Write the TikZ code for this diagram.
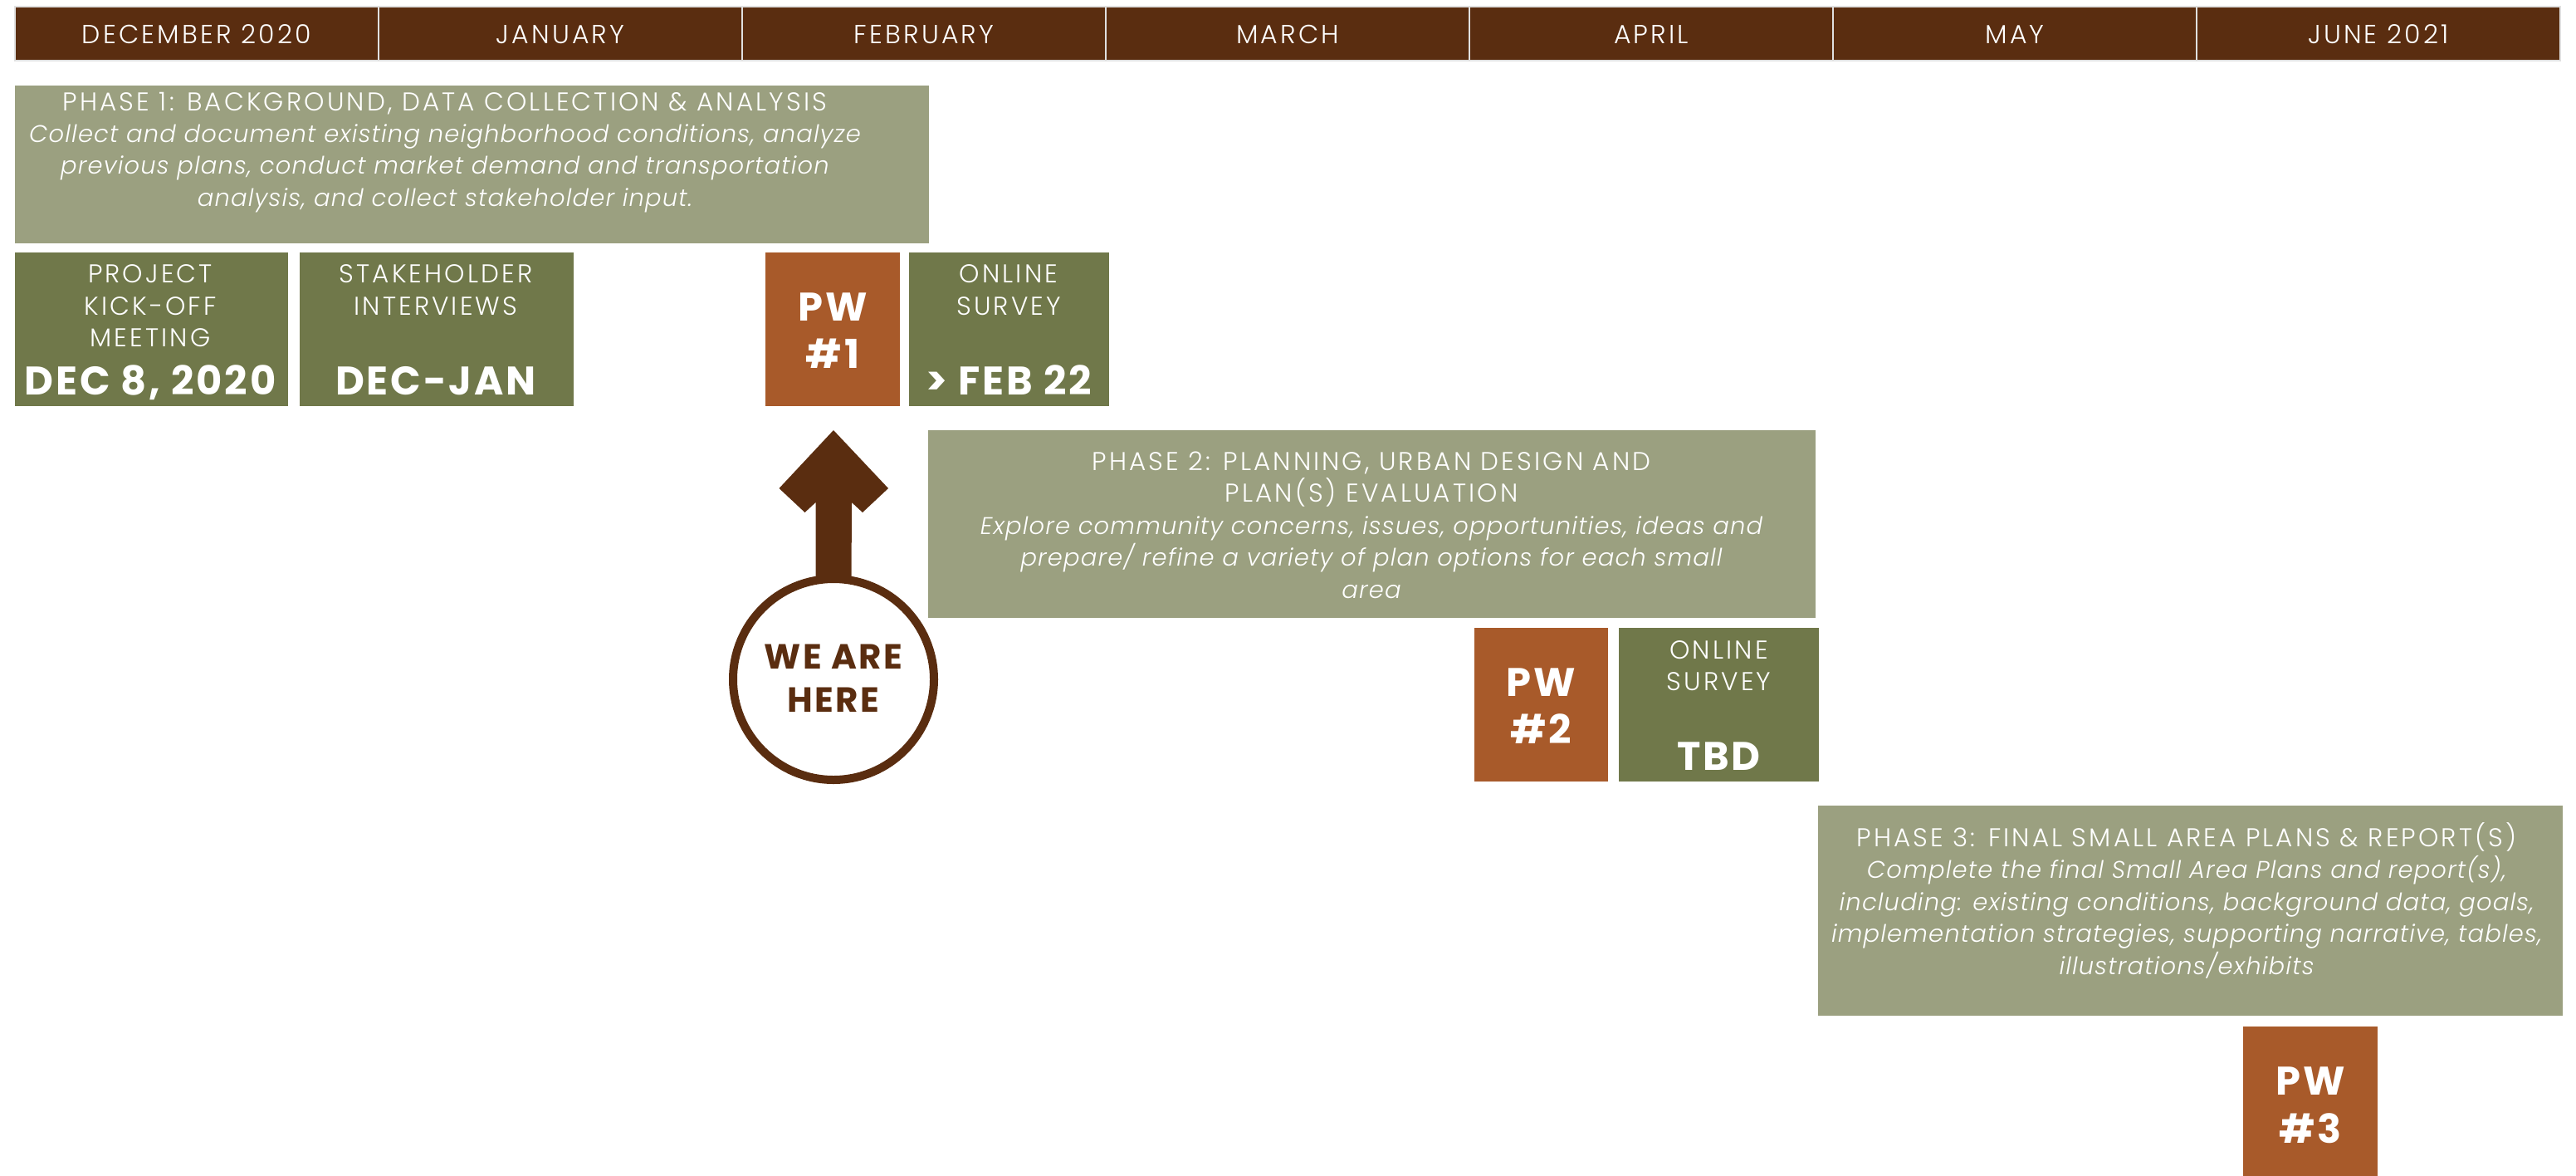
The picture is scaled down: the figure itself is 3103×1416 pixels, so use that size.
\documentclass[tikz,border=0pt]{standalone}
\usepackage{fontspec}
\newfontfamily\lightfont{Poppins Light}[LetterSpace=10]
\newfontfamily\italfont{Poppins Light Italic}[LetterSpace=4]
\newfontfamily\boldfont{Poppins Bold}[LetterSpace=6]
\definecolor{hbrown}{RGB}{90,45,16}
\definecolor{phasecol}{RGB}{155,160,128}
\definecolor{olivecol}{RGB}{112,120,74}
\definecolor{pwcol}{RGB}{168,90,42}
\begin{document}
\begin{tikzpicture}[x=1pt,y=-1pt,
  cell/.style={fill=hbrown,draw=black!12,line width=2pt,minimum width=438pt,minimum height=65pt,inner sep=0pt,outer sep=0pt},
  blk/.style={inner sep=0pt,outer sep=0pt},
  phasebox/.style={blk,fill=phasecol},
  olivebox/.style={blk,fill=olivecol},
  pwbox/.style={blk,fill=pwcol},
  txt/.style={anchor=base,inner sep=0pt,outer sep=0pt,text=white},
  hdr/.style={txt,font=\lightfont\fontsize{31.5}{36}\selectfont},
  lt/.style={txt,font=\lightfont\fontsize{31}{36}\selectfont},
  it/.style={txt,font=\italfont\fontsize{29}{36}\selectfont},
  bd/.style={txt,font=\boldfont\fontsize{48}{50}\selectfont},
  here/.style={txt,text=hbrown,font=\boldfont\fontsize{42}{44}\selectfont}
]
\useasboundingbox (0,0) rectangle (3103,1416);
% header
\foreach \i/\lab in {0/DECEMBER 2020,1/JANUARY,2/FEBRUARY,3/MARCH,4/APRIL,5/MAY,6/JUNE 2021}{
  \node[cell] (m\i) at ({18+438*\i+219},40.5) {};
  \node[hdr] (ml\i) at ({18+438*\i+219},52) {\lab};
}
% phase 1
\node[phasebox,minimum width=1101pt,minimum height=190pt] (ph1) at (568.5,198) {};
\node[lt] (ph1t) at (536,133) {PHASE 1: BACKGROUND, DATA COLLECTION \& ANALYSIS};
\node[it] (ph1a) at (536,171) {Collect and document existing neighborhood conditions, analyze};
\node[it] (ph1b) at (536,209.5) {previous plans, conduct market demand and transportation};
\node[it] (ph1c) at (536,248) {analysis, and collect stakeholder input.};
% row 2
\node[olivebox,minimum width=329pt,minimum height=185pt] (b1) at (182.5,396.5) {};
\node[lt] (b1a) at (181,340) {PROJECT};
\node[lt] (b1b) at (181,379) {KICK-OFF};
\node[lt] (b1c) at (181,417) {MEETING};
\node[bd] (b1d) at (181,475) {DEC 8, 2020};
\node[olivebox,minimum width=330pt,minimum height=185pt] (b2) at (526,396.5) {};
\node[lt] (b2a) at (525,340) {STAKEHOLDER};
\node[lt] (b2b) at (525,379) {INTERVIEWS};
\node[bd] (b2d) at (525,475) {DEC-JAN};
\node[pwbox,minimum width=162pt,minimum height=185pt] (pw1) at (1003,396.5) {};
\node[bd] (pw1a) at (1003,386) {PW};
\node[bd] (pw1b) at (1003,443) {\#1};
\node[olivebox,minimum width=241pt,minimum height=185pt] (os1) at (1215.5,396.5) {};
\node[lt] (os1a) at (1215,340) {ONLINE};
\node[lt] (os1b) at (1215,379) {SURVEY};
\node[bd] (os1d) at (1215,475) {> FEB 22};
% we are here
\node[circle,draw=hbrown,line width=10pt,fill=white,minimum size=242pt,inner sep=0pt,outer sep=0pt] (here) at (1004,818) {};
\node[here] (herea) at (1004,805) {WE ARE};
\node[here] (hereb) at (1004,857) {HERE};
\coordinate (arrtip) at (1004,518);
\fill[hbrown] (arrtip) -- ++(66,70) -- ++(-31,29) -- ++(-13,-12) -- (1025.5,697) -- (982.5,697) -- (982.5,605) -- ++(-13,12) -- ++(-31,-29) -- cycle;
% phase 2
\node[phasebox,minimum width=1069pt,minimum height=226pt] (ph2) at (1652.5,631) {};
\node[lt] (ph2t) at (1652,566) {PHASE 2: PLANNING, URBAN DESIGN AND};
\node[lt] (ph2u) at (1652,604.5) {PLAN(S) EVALUATION};
\node[it] (ph2a) at (1652,643) {Explore community concerns, issues, opportunities, ideas and};
\node[it] (ph2b) at (1652,681.5) {prepare/ refine a variety of plan options for each small};
\node[it] (ph2c) at (1652,720) {area};
\node[pwbox,minimum width=161pt,minimum height=185pt] (pw2) at (1856.5,848.5) {};
\node[bd] (pw2a) at (1856.5,838) {PW};
\node[bd] (pw2b) at (1856.5,895) {\#2};
\node[olivebox,minimum width=241pt,minimum height=185pt] (os2) at (2070.5,848.5) {};
\node[lt] (os2a) at (2070.5,793) {ONLINE};
\node[lt] (os2b) at (2070.5,831) {SURVEY};
\node[bd] (os2d) at (2070.5,927) {TBD};
% phase 3
\node[phasebox,minimum width=897pt,minimum height=253pt] (ph3) at (2638.5,1096.5) {};
\node[lt] (ph3t) at (2634,1019) {PHASE 3: FINAL SMALL AREA PLANS \& REPORT(S)};
\node[it] (ph3a) at (2634,1057.5) {Complete the final Small Area Plans and report(s),};
\node[it] (ph3b) at (2634,1096) {including: existing conditions, background data, goals,};
\node[it] (ph3c) at (2634,1134.5) {implementation strategies, supporting narrative, tables,};
\node[it] (ph3d) at (2634,1173) {illustrations/exhibits};
\node[pwbox,minimum width=162pt,minimum height=180pt] (pw3) at (2783,1326) {};
\node[bd] (pw3a) at (2783,1318) {PW};
\node[bd] (pw3b) at (2783,1376) {\#3};
\end{tikzpicture}
\end{document}
